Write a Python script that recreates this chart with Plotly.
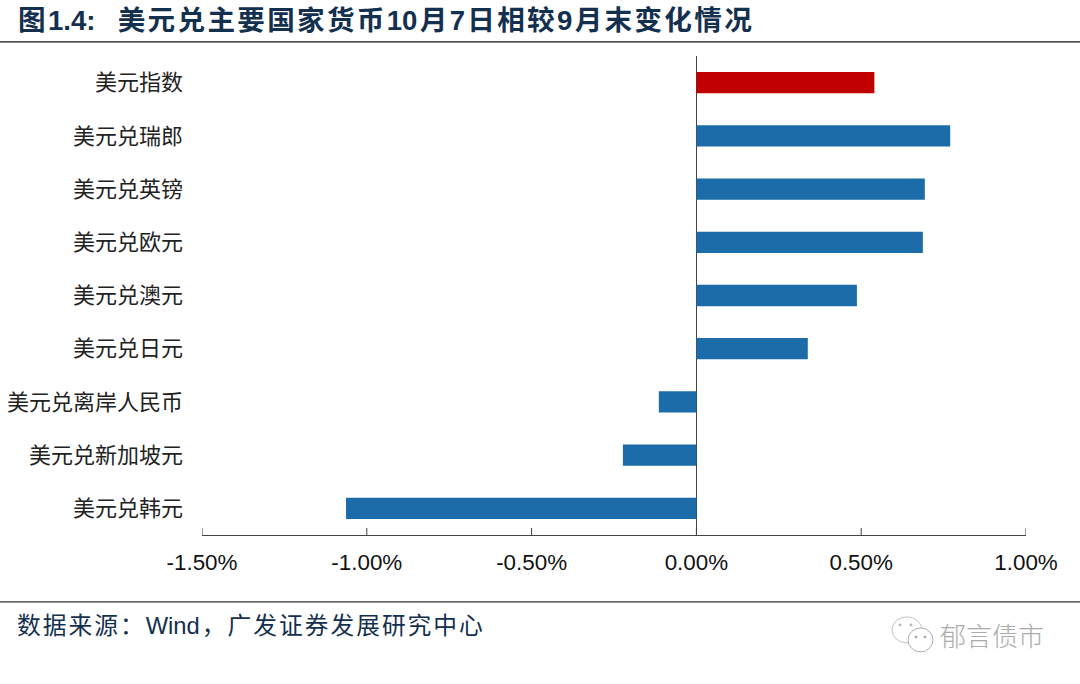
import plotly.graph_objects as go

categories = ["美元兑韩元", "美元兑新加坡元", "美元兑离岸人民币", "美元兑日元", "美元兑澳元",
              "美元兑欧元", "美元兑英镑", "美元兑瑞郎", "美元指数"]
values = [-1.063, -0.223, -0.114, 0.338, 0.487, 0.687, 0.693, 0.77, 0.54]
bar_colors = ["#1b6ca8"] * 8 + ["#c00000"]
x_ticks = [-1.5, -1.0, -0.5, 0.0, 0.5, 1.0]
x_labels = ["-1.50%", "-1.00%", "-0.50%", "0.00%", "0.50%", "1.00%"]

title_text = "图1.4:\u00a0\u00a0美元兑主要国家货币10月7日相较9月末变化情况"
source_text = "数据来源\uff1aWind\uff0c广发证券发展研究中心"
mark_text = "郁言债市"

W, H = 1080, 684
L, R, T, B = 202, 1026, 55.6, 535
CJK = "Noto Sans CJK SC"
LAT = "Liberation Sans"
NAVY = "#14304f"
AXIS = "#444444"
HAIR = "\u200a"


def spaced(s):
    """Hair spaces next to CJK characters only, to reach the reference's wider pitch."""
    out = ""
    for i, c in enumerate(s):
        out += c
        if i + 1 < len(s) and (ord(c) > 127 or ord(s[i + 1]) > 127):
            out += HAIR
    return out


fig = go.Figure(go.Bar(
    y=categories, x=values, orientation="h",
    marker=dict(color=bar_colors, line_width=0), width=0.4,
))


def px(x):
    return (x - L) / (R - L)


def py(y):
    return (B - y) / (B - T)


def circle(x0, x1, y0, y1, color, fill="white", width=1):
    return dict(type="circle", xref="paper", yref="paper", x0=px(x0), x1=px(x1), y0=py(y1), y1=py(y0),
                line=dict(color=color, width=width), fillcolor=fill)


shapes = [
    dict(type="line", xref="paper", yref="paper", x0=px(0), x1=px(W), y0=py(41.5), y1=py(41.5),
         line=dict(color="#111111", width=1.3)),
    dict(type="line", xref="paper", yref="paper", x0=px(0), x1=px(W), y0=py(602), y1=py(602),
         line=dict(color="#333333", width=1.3)),
    circle(892, 922, 617, 643, "#c4c4c4"),
    circle(908, 933, 628, 652, "#adadad"),
    circle(899, 901, 624, 626, "#b5b5b5", "#b5b5b5"),
    circle(910, 912, 624, 626, "#b5b5b5", "#b5b5b5"),
    circle(915, 917, 636, 638, "#a5a5a5", "#a5a5a5"),
    circle(924, 926, 636, 638, "#a5a5a5", "#a5a5a5"),
]
for t in x_ticks:
    shapes.append(dict(type="line", xref="x", yref="paper", x0=t, x1=t, y0=0, y1=py(528),
                       line=dict(color=AXIS, width=1)))

annotations = [
    dict(text=spaced(title_text), x=px(16), y=py(20), xref="paper", yref="paper", xanchor="left", yanchor="middle",
         showarrow=False, font=dict(family=f"{LAT}, {CJK}", size=27.6, color=NAVY, weight="bold")),
    dict(text=spaced(source_text), x=px(15), y=py(626), xref="paper", yref="paper", xanchor="left", yanchor="middle",
         showarrow=False, font=dict(family=f"{LAT}, {CJK}", size=23.75, color=NAVY)),
    dict(text=mark_text, x=px(938), y=py(635), xref="paper", yref="paper", xanchor="left", yanchor="middle",
         showarrow=False, font=dict(family=CJK, size=26, color="#ababab", weight=300)),
]

fig.update_layout(
    width=W, height=H, autosize=False,
    margin=dict(l=L, r=W - R, t=T, b=H - B, pad=0, autoexpand=False),
    paper_bgcolor="white", plot_bgcolor="white",
    showlegend=False, shapes=shapes, annotations=annotations,
)
fig.update_xaxes(
    range=[-1.5, 1.0], tickmode="array", tickvals=x_ticks, ticktext=x_labels,
    ticks="", automargin=False,
    showline=True, linecolor=AXIS, linewidth=1,
    showgrid=False, zeroline=True, zerolinecolor=AXIS, zerolinewidth=1,
    ticklabelstandoff=7,
    tickfont=dict(family=LAT, size=22.4, color="#111111"),
)
fig.update_yaxes(
    type="category", categoryorder="array", categoryarray=categories,
    showgrid=False, showline=False, zeroline=False, ticks="", automargin=False,
    ticklabelstandoff=18,
    tickfont=dict(family=CJK, size=22, color="#222222"),
)

fig.write_html("out.html", post_script="document.body.style.margin='0';", config={"displayModeBar": False})
